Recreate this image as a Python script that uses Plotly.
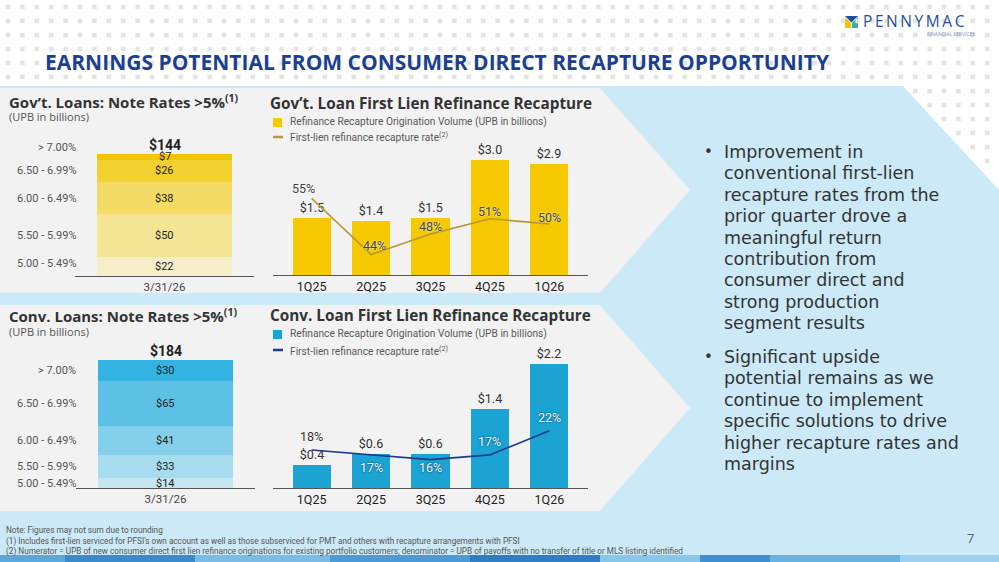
import numpy as np
import plotly.graph_objects as go

# -----------------------------
# data
# -----------------------------
rate_buckets = ["5.00 - 5.49%", "5.50 - 5.99%", "6.00 - 6.49%", "6.50 - 6.99%", "> 7.00%"]
stack_date = ["3/31/26"]
gov_upb = [22, 50, 38, 26, 7]
gov_total = 144  # reported total (segments don't sum due to rounding)
conv_upb = [14, 33, 41, 65, 30]
conv_total = 184

quarters = ["1Q25", "2Q25", "3Q25", "4Q25", "1Q26"]
gov_volume = [1.5, 1.4, 1.5, 3.0, 2.9]
gov_rate = [55, 44, 48, 51, 50]
conv_volume = [0.4, 0.6, 0.6, 1.4, 2.2]
conv_rate = [18, 17, 16, 17, 22]

bullets = [
    ["Improvement in", "conventional first-lien", "recapture rates from the",
     "prior quarter drove a", "meaningful return", "contribution from",
     "consumer direct and", "strong production", "segment results"],
    ["Significant upside", "potential remains as we", "continue to implement",
     "specific solutions to drive", "higher recapture rates and", "margins"],
]
footnotes = [
    "Note: Figures may not sum due to rounding",
    "(1) Includes first-lien serviced for PFSI's own account as well as those subserviced for PMT and others with recapture arrangements with PFSI",
    "(2) Numerator = UPB of new consumer direct first lien refinance originations for existing portfolio customers; denominator = UPB of payoffs with no transfer of title or MLS listing identified",
]

# -----------------------------
# styles
# -----------------------------
W, H = 999, 562
GOV_SHADES = ["#f5eec8", "#f4e595", "#f3db66", "#f2d02f", "#f1c500"]
CONV_SHADES = ["#c6e6f2", "#a7dbee", "#84cfea", "#5cc1e5", "#33b3e2"]
GOV_BAR = "#f5c800"
CONV_BAR = "#1aa3d3"
GOV_LINE = "#b89a34"
CONV_LINE = "#1f3a8f"
NAVY = "#1c3f94"
HEAD = "Open Sans"
TEXT = "DejaVu Sans"
BODY = "Roboto"

# label offsets (px) of the rate labels relative to their points
gov_rate_shift = [(-8, 10), (3, 9), (0, 8), (0, 7), (0, 6)]
conv_rate_shift = [(0, 14), (0, -13), (0, -8), (0, 13), (0, 13)]
conv_rate_color = ["#333", "#f4f9fc", "#f4f9fc", "#f4f9fc", "#f4f9fc"]
conv_rate_glow = ["0px 0px 2px white"] + ["0px 0px 2px rgba(0,0,0,0.7)"] * 4


def px(x):
    return x / W


def py(y):
    return 1 - y / H


fig = go.Figure()

# -----------------------------
# stacked bars (gov / conv)
# -----------------------------
for ax, vals, shades in [("", gov_upb, GOV_SHADES), ("3", conv_upb, CONV_SHADES)]:
    yid = "y" if ax == "" else "y4"
    for i, v in enumerate(vals):
        fig.add_trace(go.Bar(
            x=stack_date, y=[v], marker=dict(color=shades[i], line=dict(width=0)),
            width=0.754, xaxis="x" + ax, yaxis=yid, hoverinfo="skip",
        ))

# -----------------------------
# refinance recapture bars + rate lines
# -----------------------------
fig.add_trace(go.Bar(
    x=quarters, y=gov_volume, marker=dict(color=GOV_BAR, line=dict(width=0)), width=0.64,
    texttemplate="$%{y:.1f}", textposition="outside", cliponaxis=False,
    outsidetextfont=dict(family=BODY, size=12.5, color="#333"),
    xaxis="x2", yaxis="y2",
))
fig.add_trace(go.Scatter(
    x=quarters, y=gov_rate, mode="lines", line=dict(color=GOV_LINE, width=1.6),
    xaxis="x2", yaxis="y3",
))
fig.add_trace(go.Bar(
    x=quarters, y=conv_volume, marker=dict(color=CONV_BAR, line=dict(width=0)), width=0.64,
    texttemplate="$%{y:.1f}", textposition="outside", cliponaxis=False,
    outsidetextfont=dict(family=BODY, size=12.5, color="#333"),
    xaxis="x4", yaxis="y5",
))
fig.add_trace(go.Scatter(
    x=quarters, y=conv_rate, mode="lines", line=dict(color=CONV_LINE, width=1.6),
    xaxis="x4", yaxis="y6",
))

# -----------------------------
# background dot pattern (white area only)
# -----------------------------
gx, gy = np.meshgrid(np.arange(8, W, 14.4), np.arange(7, 200, 14))
gx, gy = gx.ravel(), gy.ravel()
edge = 903 + (gy - 86) * 96 / 104
keep = (gy < 82) | (gx > edge + 4)
fig.add_trace(go.Scatter(
    x=gx[keep], y=gy[keep], mode="markers",
    marker=dict(symbol="square", size=4.5, color="#e3e3e3", line=dict(width=0)),
    xaxis="x5", yaxis="y7", hoverinfo="skip",
))

# -----------------------------
# shapes
# -----------------------------
shapes = []


def poly(points, color):
    path = "M " + " L ".join(f"{px(x):.5f},{py(y):.5f}" for x, y in points) + " Z"
    shapes.append(dict(type="path", path=path, xref="paper", yref="paper",
                       fillcolor=color, line=dict(width=0), layer="below"))


poly([(0, 86), (903, 86), (999, 190), (999, 555), (0, 555)], "#cbe9f6")
poly([(0, 88), (600, 88), (690, 190), (600, 293), (0, 293)], "#f2f2f2")
poly([(0, 305), (600, 305), (690, 408), (600, 511), (0, 511)], "#f2f2f2")

stripe_x = [0, 65, 195, 330, 470, 600, 700, 770, 900, 999]
stripe_c = ["#5aa7da", "#3b8bcc", "#7cbbe3", "#4c9bd5", "#2f7dc2", "#8ac6ea", "#3f8fd0", "#6ab2df", "#9dd0ef"]
for i, c in enumerate(stripe_c):
    poly([(stripe_x[i], 555), (stripe_x[i + 1], 555), (stripe_x[i + 1], 562), (stripe_x[i], 562)], c)

# logo mark
poly([(845, 16), (858, 16), (851.5, 22.5)], "#1f4fa0")
poly([(845, 17), (845, 28), (851, 28), (851, 23)], "#f2c500")
poly([(858, 17), (858, 28), (852, 28), (852, 23)], "#2fb3a0")

# legend keys
for y0, col in [(118, GOV_BAR), (330, CONV_BAR)]:
    shapes.append(dict(type="rect", xref="paper", yref="paper", x0=px(273), x1=px(282),
                       y0=py(y0), y1=py(y0 + 9), fillcolor=col, line=dict(width=0)))
for y0, col in [(137, GOV_LINE), (350, CONV_LINE)]:
    shapes.append(dict(type="line", xref="paper", yref="paper", x0=px(273), x1=px(283),
                       y0=py(y0), y1=py(y0), line=dict(color=col, width=2.5)))

# -----------------------------
# annotations
# -----------------------------
ann = []


def note(x, y, text, size, color="#333", family=BODY, xanchor="left", yanchor="middle", **kw):
    ann.append(dict(x=px(x), y=py(y), xref="paper", yref="paper", text=text, showarrow=False,
                    xanchor=xanchor, yanchor=yanchor, align=xanchor if xanchor != "center" else "center",
                    font=dict(family=family, size=size, color=color), **kw))


note(43, 62, "<b>EARNINGS POTENTIAL FROM CONSUMER DIRECT RECAPTURE OPPORTUNITY</b>", 21, NAVY, HEAD)
note(861, 21, "P\u2009E\u2009N\u2009N\u2009Y\u2009M\u2009A\u2009C", 15.5, "#1f4fa0", HEAD)
note(977, 34, "FINANCIAL SERVICES", 5, "#7a8fb5", HEAD, xanchor="right")

# panel titles
note(7, 101, "<b>Gov’t. Loans: Note Rates >5%<sup>(1)</sup></b>", 15, "#333", HEAD)
note(7, 116, "(UPB in billions)", 11, "#555", HEAD)
note(7, 315, "<b>Conv. Loans: Note Rates >5%<sup>(1)</sup></b>", 15, "#333", HEAD)
note(7, 331, "(UPB in billions)", 11, "#555", HEAD)
note(268, 103, "<b>Gov’t. Loan First Lien Refinance Recapture</b>", 15.3, "#333", HEAD)
note(268, 315, "<b>Conv. Loan First Lien Refinance Recapture</b>", 15.3, "#333", HEAD)

for y0 in (122, 334):
    note(288, y0, "Refinance Recapture Origination Volume (UPB in billions)", 10.2, "#595959")
for y0 in (137, 350):
    note(288, y0, "First-lien refinance recapture rate<sup>(2)</sup>", 10.2, "#595959")

# rate labels on the lines
for q, r, (dx, dy) in zip(quarters, gov_rate, gov_rate_shift):
    ann.append(dict(x=q, y=r, xref="x2", yref="y3", text=f"{r}%", showarrow=False,
                    xshift=dx, yshift=dy,
                    font=dict(family=BODY, size=12.5, color="#444", shadow="0px 0px 2px white")))
for q, r, (dx, dy), c, g in zip(quarters, conv_rate, conv_rate_shift, conv_rate_color, conv_rate_glow):
    ann.append(dict(x=q, y=r, xref="x4", yref="y6", text=f"{r}%", showarrow=False,
                    xshift=dx, yshift=dy,
                    font=dict(family=BODY, size=12.5, color=c, shadow=g)))

# stacked bar labels (segment values, totals, bucket names)
gov_shift = [3, 0, 0, 0, 9]
conv_shift = [0, 0, 0, 0, 0]
for yref, vals, total, shifts in [("y", gov_upb, gov_total, gov_shift),
                                  ("y4", conv_upb, conv_total, conv_shift)]:
    xref = "x" if yref == "y" else "x3"
    tops = np.cumsum(vals)
    mids = tops - np.array(vals) / 2
    for v, m, s, lab in zip(vals, mids, shifts, rate_buckets):
        ann.append(dict(x=0, y=m, xref=xref, yref=yref, text=f"${v}", showarrow=False,
                        font=dict(family=BODY, size=11, color="#222")))
        ann.append(dict(x=px(78), y=m, xref="paper", yref=yref, text=lab, showarrow=False,
                        xanchor="right", yshift=s, font=dict(family=BODY, size=11, color="#555")))
    ann.append(dict(x=0, y=tops[-1], xref=xref, yref=yref, text=f"<b>${total}</b>",
                    showarrow=False, yanchor="bottom", yshift=-1,
                    font=dict(family=BODY, size=14, color="#222")))

# right-hand commentary, one annotation per line to keep the slide's line spacing
for y0, lines in zip((152, 357), bullets):
    note(702, y0, "•", 15, "#333", TEXT)
    for k, line in enumerate(lines):
        note(722, y0 + 21.4 * k, line, 17.5, "#333", TEXT)

note(4, 523, "<br>".join(footnotes), 8.2, "#555", BODY, yanchor="top")
note(970, 538, "7", 13, "#666", BODY, xanchor="center")

# -----------------------------
# layout / axes
# -----------------------------
xcat = dict(showline=True, linecolor="#555", linewidth=1, ticks="", showgrid=False,
            zeroline=False, tickfont=dict(family=BODY, size=12.5, color="#222"), fixedrange=True)
xstack = dict(xcat, tickfont=dict(family=BODY, size=11.5, color="#444"))
hidden = dict(visible=False, showgrid=False, zeroline=False, fixedrange=True)

fig.update_layout(
    width=W, height=H, margin=dict(l=0, r=0, t=0, b=0),
    paper_bgcolor="white", plot_bgcolor="rgba(0,0,0,0)",
    barmode="stack", showlegend=False, bargap=0,
    shapes=shapes, annotations=ann,
    xaxis=dict(xstack, domain=[px(75), px(254)], anchor="y"),
    yaxis=dict(hidden, domain=[py(276), py(150)], range=[0, 147.5], anchor="x"),
    xaxis2=dict(xcat, domain=[px(273), px(588)], range=[-0.65, 4.65], anchor="y2"),
    yaxis2=dict(hidden, domain=[py(275), py(137)], range=[0, 3.6], anchor="x2"),
    yaxis3=dict(hidden, overlaying="y2", anchor="x2", range=[40, 67]),
    xaxis3=dict(xstack, domain=[px(76), px(255)], anchor="y4"),
    yaxis4=dict(hidden, domain=[py(488), py(355)], range=[0, 189.7], anchor="x3"),
    xaxis4=dict(xcat, domain=[px(273), px(588)], range=[-0.65, 4.65], anchor="y5"),
    yaxis5=dict(hidden, domain=[py(488), py(341)], range=[0, 2.6], anchor="x4"),
    yaxis6=dict(hidden, overlaying="y5", anchor="x4", range=[10.1, 40.7]),
    xaxis5=dict(hidden, domain=[0, 1], range=[0, W], anchor="y7"),
    yaxis7=dict(hidden, domain=[0, 1], range=[H, 0], anchor="x5"),
)

# the page body has a default 8px margin; drop it so the slide sits at the window corner
fig.write_html("out.html", config={"displayModeBar": False},
               post_script="document.body.style.margin='0';")
